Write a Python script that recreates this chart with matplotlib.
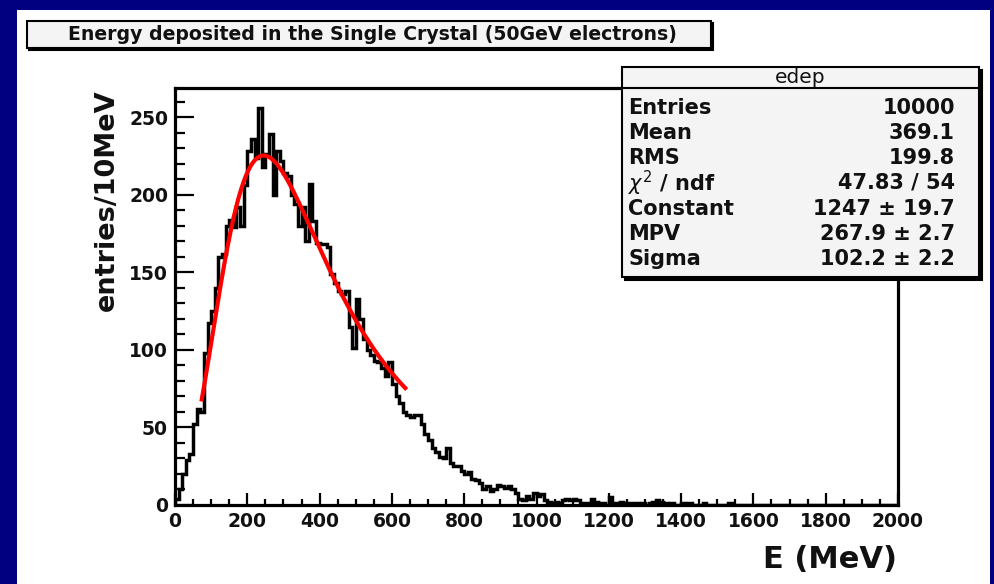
import numpy as np
import matplotlib
matplotlib.use("Agg")
import matplotlib.pyplot as plt
from matplotlib.patches import Rectangle
from matplotlib.ticker import MultipleLocator

# ---- histogram contents: 200 bins of 10 MeV, 0..2000 MeV ----
bin_edges_mev = np.arange(0, 2001, 10)
counts = [
    4, 10, 20, 29, 33, 52, 62, 60, 98, 117, 125, 140,
    160, 162, 180, 184, 179, 192, 180, 206, 228, 236, 224, 256,
    218, 226, 239, 200, 228, 222, 214, 212, 200, 194, 180, 192,
    170, 207, 183, 169, 168, 168, 166, 149, 143, 138, 136, 138,
    115, 101, 133, 120, 107, 100, 97, 93, 92, 88, 83, 92,
    78, 70, 66, 60, 58, 57, 58, 58, 52, 46, 42, 37,
    34, 31, 30, 37, 27, 25, 25, 22, 20, 21, 17, 16,
    14, 10, 12, 9, 10, 13, 12, 11, 12, 10, 8, 4,
    3, 6, 4, 8, 6, 7, 3, 2, 1, 2, 1, 3, 4, 3, 4,
    3, 1, 1, 1, 4, 2, 1, 1, 0, 5, 1, 1, 2, 1, 0,
    1, 1, 0, 1, 0, 1, 2, 3, 2, 1, 0, 1, 0, 0, 1,
    0, 1, 0, 0, 0, 1, 0, 0, 0, 0, 0, 0, 1, 0, 0,
    0, 0, 0, 0, 0, 0, 0, 0, 0, 0, 0, 0, 0, 0, 0,
    0, 0, 0, 0, 0, 0, 0, 0, 0, 0, 0, 0, 0, 0, 0,
    0, 0, 0, 0, 0, 0, 0, 0, 0, 0, 0, 0, 0, 0,
]

# ---- Landau fit result ----
fit_constant = 1247.0
fit_mpv = 267.9
fit_sigma = 102.2
fit_range = (73.0, 641.0)

stats_names = ["Entries", "Mean", "RMS", r"$\chi^{2}$ / ndf", "Constant", "MPV", "Sigma"]
stats_values = ["10000", "369.1", "199.8", "47.83 / 54",
                "1247 \u00b1 19.7", "267.9 \u00b1 2.7", "102.2 \u00b1 2.2"]

title_text = "Energy deposited in the Single Crystal (50GeV electrons)"
hist_name = "edep"
x_title = "E (MeV)"
y_title = "entries/10MeV"


def landau_density(lam):
    """Standard Landau density phi(lambda) from its integral representation."""
    t = np.linspace(1e-12, 40.0, 40001)
    base = -t * np.log(t)
    s = np.sin(np.pi * t)
    out = np.empty_like(lam)
    for k, l in enumerate(lam):
        out[k] = np.trapezoid(np.exp(base - l * t) * s, t) / np.pi
    return out


W, H = 995, 584
fig = plt.figure(figsize=(W / 100, H / 100), dpi=100, facecolor="#000080")


def fx(x):
    return x / W


def fy(y):
    return 1 - y / H


# white canvas
fig.add_artist(Rectangle((fx(17), 0), fx(990) - fx(17), fy(10), transform=fig.transFigure,
                         facecolor="white", edgecolor="none", zorder=-10))

ax = fig.add_axes([fx(175), fy(505), fx(898) - fx(175), fy(88) - fy(505)])
ax.set_facecolor("white")

ax.stairs(counts, bin_edges_mev, baseline=0, fill=False, color="black", linewidth=2.5)

xs = np.linspace(fit_range[0], fit_range[1], 250)
ys = fit_constant * landau_density((xs - fit_mpv) / fit_sigma)
ax.plot(xs, ys, color="#ff0000", linewidth=3.0, solid_capstyle="butt")

ax.set_xlim(0, 2000)
ax.set_ylim(0, 1.05 * max(counts))

ax.xaxis.set_major_locator(MultipleLocator(200))
ax.xaxis.set_minor_locator(MultipleLocator(50))
ax.yaxis.set_major_locator(MultipleLocator(50))
ax.yaxis.set_minor_locator(MultipleLocator(10))
ax.tick_params(axis="x", which="major", direction="in", length=9, width=1.6, pad=5)
ax.tick_params(axis="x", which="minor", direction="in", length=4.5, width=1.6)
ax.tick_params(axis="y", which="major", direction="in", length=14, width=1.6, pad=5)
ax.tick_params(axis="y", which="minor", direction="in", length=7, width=1.6)
for lab in ax.get_xticklabels() + ax.get_yticklabels():
    lab.set_fontfamily("DejaVu Sans")
    lab.set_fontweight("bold")
    lab.set_fontsize(13.5)
    lab.set_color("#111111")
for sp in ax.spines.values():
    sp.set_linewidth(2.3)

# axis titles
fig.text(fx(897), fy(559), x_title, ha="right", va="center", fontsize=22,
         fontweight="bold", family="DejaVu Sans", color="#111111")
fig.text(fx(107), fy(89), y_title, ha="center", va="top", rotation=90, fontsize=19.5,
         fontweight="bold", family="DejaVu Sans", color="#111111")


def pave(x0, y0, x1, y1, shadow=3, lw=1.5, face="#f4f4f4"):
    fig.add_artist(Rectangle((fx(x0 + shadow), fy(y1 + shadow)), fx(x1) - fx(x0),
                             fy(y0) - fy(y1), transform=fig.transFigure,
                             facecolor="black", edgecolor="black", lw=lw, zorder=5))
    fig.add_artist(Rectangle((fx(x0), fy(y1)), fx(x1) - fx(x0), fy(y0) - fy(y1),
                             transform=fig.transFigure, facecolor=face,
                             edgecolor="black", lw=lw, zorder=6))


# title pave
pave(27, 21, 711, 48, shadow=2)
fig.text(fx(372), fy(34.5), title_text, ha="center", va="center", fontsize=13.6,
         fontweight="bold", family="DejaVu Sans", color="#111111", zorder=7)

# statistics pave
pave(622, 67, 979, 277, shadow=3)
fig.add_artist(plt.Line2D([fx(622), fx(979)], [fy(88), fy(88)], transform=fig.transFigure,
                          color="black", lw=1.5, zorder=7))
fig.text(fx(800), fy(77.5), hist_name, ha="center", va="center", fontsize=14.5,
         family="DejaVu Sans", color="#111111", zorder=7)
row_y = [108, 133, 158, 183, 209, 234, 259]
for name, val, yy in zip(stats_names, stats_values, row_y):
    fig.text(fx(628), fy(yy), name, ha="left", va="center", fontsize=15,
             fontweight="bold", family="DejaVu Sans", color="#111111", zorder=7)
    fig.text(fx(955), fy(yy), val, ha="right", va="center", fontsize=15,
             fontweight="bold", family="DejaVu Sans", color="#111111", zorder=7)

fig.savefig("out.png", dpi=100, facecolor=fig.get_facecolor())
